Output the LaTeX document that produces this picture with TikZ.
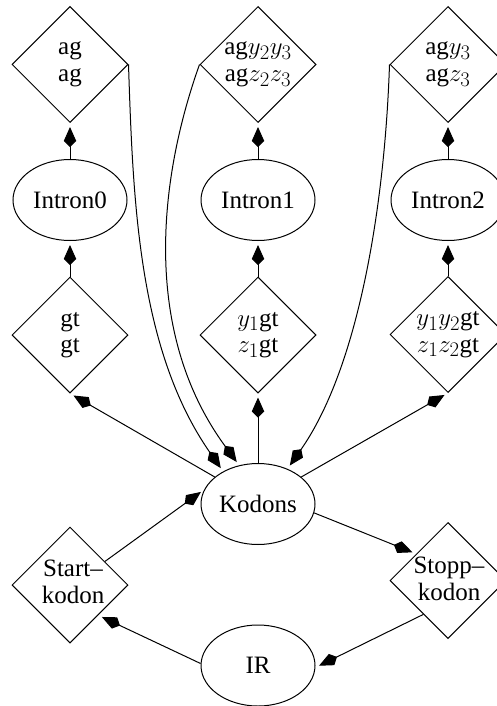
\documentclass[tikz,border=0pt]{standalone}
\usepackage{fontspec}
\setmainfont{Liberation Serif}
\DeclareMathSizes{25}{28}{21}{16}
\usetikzlibrary{shapes.geometric,arrows.meta}
\begin{document}
\begin{tikzpicture}[x=1pt,y=-1pt,
  txt/.style={font=\fontsize{25}{26.5}\selectfont, align=center, inner sep=0pt},
  dia/.style={draw, diamond, minimum width=116pt, minimum height=116pt, inner sep=0pt, line width=1pt},
  oval/.style={draw, ellipse, minimum width=114pt, minimum height=81pt, inner sep=0pt, line width=1pt,
               font=\fontsize{25}{26.5}\selectfont},
  link/.style={line width=1pt, -{Kite[length=20pt,width=12.5pt,inset=6pt]}, shorten >=4pt}]
\useasboundingbox (0,0) rectangle (497,706);
\clip (0,0) rectangle (497,706);

% acceptor states (top row)
\node[dia] (ag)   at (70,64.5)  {};
\node[dia] (agyy) at (258,64.5) {};
\node[dia] (agy)  at (448,64.5) {};
\node[txt] (agT)   at (ag)   {ag\\ag};
\node[txt] (agyyT) at (agyy) {ag$y_2y_3$\\ag$z_2z_3$};
\node[txt] (agyT)  at (agy)  {ag$y_3$\\ag$z_3$};

% introns
\node[oval] (in0) at (70,200)  {Intron0};
\node[oval] (in1) at (258,200) {Intron1};
\node[oval] (in2) at (448,200) {Intron2};

% donor states
\node[dia] (gt)   at (70,335)    {};
\node[dia] (ygt)  at (258,335)   {};
\node[dia] (yygt) at (448,334.5) {};
\node[txt] (gtT)   at (gt)   {gt\\gt};
\node[txt] (ygtT)  at (ygt)  {$y_1$gt\\$z_1$gt};
\node[txt] (yygtT) at (yygt) {$y_1y_2$gt\\$z_1z_2$gt};

% coding region and its neighbours
\node[oval] (kod) at (258,504) {Kodons};
\node[dia] (start) at (70,585)    {};
\node[dia] (stop)  at (448,580.5) {};
\node[txt] (startT) at (73,582)  {Start--\\kodon};
\node[txt] (stopT)  at (449,579) {Stopp--\\kodon};
\node[oval] (ir) at (258,665.5) {IR};

% intron chains
\draw[link] (in0.north) -- (ag.south);
\draw[link] (in1.north) -- (agyy.south);
\draw[link] (in2.north) -- (agy.south);
\draw[link] (gt.north)   -- (in0.south);
\draw[link] (ygt.north)  -- (in1.south);
\draw[link] (yygt.north) -- (in2.south);

% from codons into introns
\draw[link] (kod.148)   -- (gt.south);
\draw[link] (kod.north) -- (ygt.south);
\draw[link] (kod.32)    -- (yygt.south);

% back from introns to codons
\draw[link] (ag.east)   .. controls (133,200) and (138,349) .. (kod.137);
\draw[link] (agyy.west) .. controls (160,175) and (140,330) .. (kod.116);
\draw[link] (agy.west)  .. controls (385,200) and (360,365) .. (kod.50);

% gene cycle
\draw[link] (start.34) -- (kod.165);
\draw[link] (kod.-9)   -- (stop.140);
\draw[link] (stop.234) -- (ir.-2);
\draw[link] (ir.178)   -- (start.-47);
\end{tikzpicture}
\end{document}
